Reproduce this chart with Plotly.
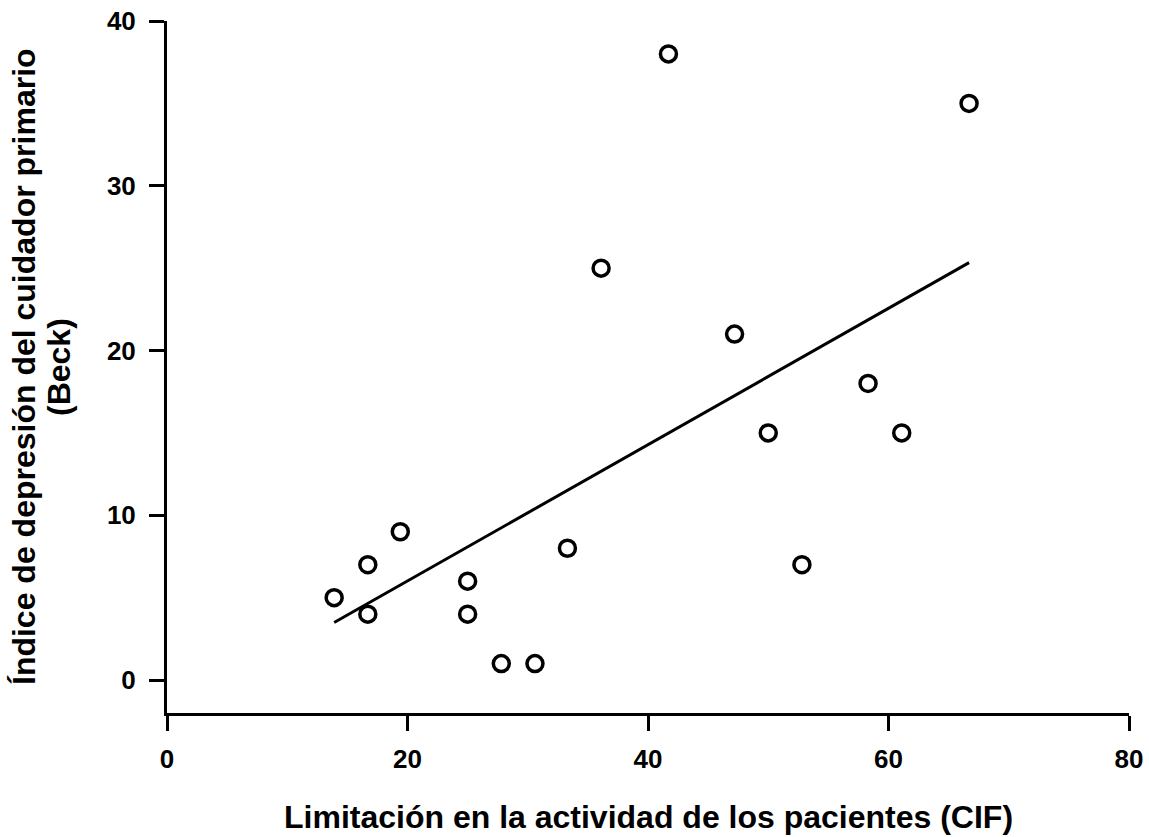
import numpy as np
import plotly.graph_objects as go

# Data
cif = [13.9, 16.7, 16.7, 19.4, 25.0, 25.0, 27.8, 30.6, 33.3, 36.1, 41.7, 47.2, 50.0, 52.8, 58.3, 61.1, 66.7]
beck = [5, 7, 4, 9, 6, 4, 1, 1, 8, 25, 38, 21, 15, 7, 18, 15, 35]

x_ticks = [0, 20, 40, 60, 80]
y_ticks = [0, 10, 20, 30, 40]

x_title = "Limitación en la actividad de los pacientes (CIF)"
y_title_1 = "Índice de depresión del cuidador primario"
y_title_2 = "(Beck)"

# Linear regression from the data
slope, intercept = np.polyfit(cif, beck, 1)
fit_x = [min(cif), max(cif)]
fit_y = [slope * v + intercept for v in fit_x]

FONT = "Liberation Sans, Arial, sans-serif"
W, H = 1149, 837
ML, MR, MT, MB = 167, 20, 21, 124

fig = go.Figure()
fig.add_trace(go.Scatter(
    x=fit_x, y=fit_y, mode="lines",
    line=dict(color="black", width=3),
    showlegend=False, hoverinfo="skip",
))
fig.add_trace(go.Scatter(
    x=cif, y=beck, mode="markers",
    marker=dict(symbol="circle-open", size=16, color="black",
                line=dict(color="black", width=3.5)),
    showlegend=False,
))

title_font = dict(family=FONT, size=32, color="black")

fig.update_layout(
    width=W, height=H,
    margin=dict(l=ML, r=MR, t=MT, b=MB, autoexpand=False),
    paper_bgcolor="white", plot_bgcolor="white",
    font=dict(family=FONT, size=26, color="black"),
    xaxis=dict(
        range=[0, 80], tickvals=x_ticks, ticktext=[str(v) for v in x_ticks],
        showline=True, linecolor="black", linewidth=3,
        ticks="outside", ticklen=15, tickwidth=3, tickcolor="black",
        showgrid=False, zeroline=False, automargin=False,
        tickfont=dict(family=FONT, size=26, color="black", weight="bold"),
        ticklabelstandoff=6,
    ),
    yaxis=dict(
        range=[-2, 40], tickvals=y_ticks, ticktext=[str(v) for v in y_ticks],
        showline=True, linecolor="black", linewidth=3,
        ticks="outside", ticklen=15, tickwidth=3, tickcolor="black",
        showgrid=False, zeroline=False, automargin=False,
        tickfont=dict(family=FONT, size=26, color="black", weight="bold"),
        ticklabelstandoff=8,
    ),
    annotations=[
        dict(text="<b>" + x_title + "</b>", xref="paper", yref="paper",
             x=0.5, y=0, xanchor="center", yanchor="top", yshift=-84,
             showarrow=False, font=title_font),
        dict(text="<b>" + y_title_1 + "</b>", xref="paper", yref="paper",
             x=0, y=0.5, xanchor="left", yanchor="middle", xshift=-ML + 4,
             textangle=-90, showarrow=False, font=title_font),
        dict(text="<b>" + y_title_2 + "</b>", xref="paper", yref="paper",
             x=0, y=0.5, xanchor="left", yanchor="middle", xshift=-ML + 39,
             textangle=-90, showarrow=False, font=title_font),
    ],
)

fig.write_html("out.html", config={"displayModeBar": False},
               post_script="document.body.style.margin='0';document.body.style.overflow='hidden';")
